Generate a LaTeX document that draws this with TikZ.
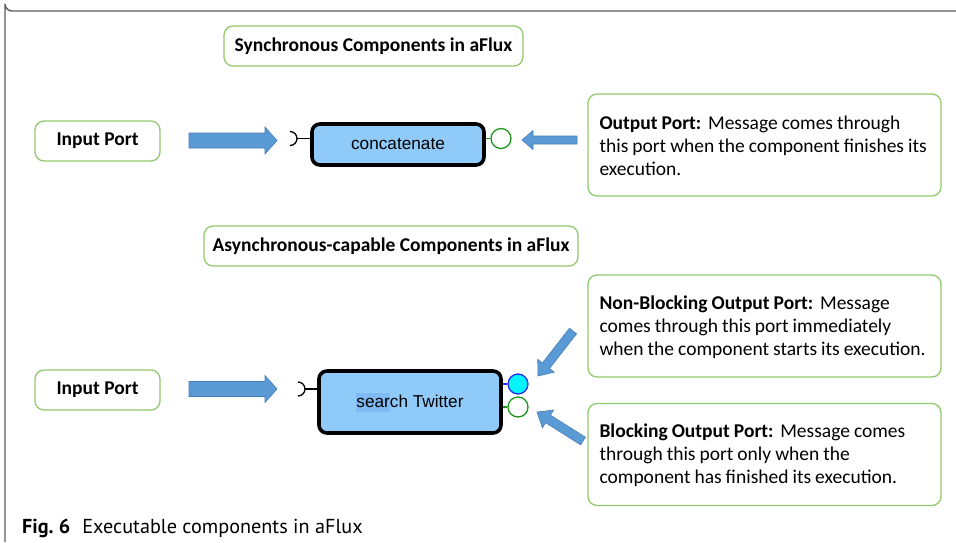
\documentclass[tikz,border=0pt]{standalone}
\usepackage{fontspec}
\setmainfont{Carlito}
\newfontfamily\compfont{Liberation Sans}
\newfontfamily\capfont{PT Sans}
\usetikzlibrary{calc}

\definecolor{boxgreen}{RGB}{146,200,110}
\definecolor{compfill}{RGB}{144,202,249}
\definecolor{selfill}{RGB}{126,186,244}
\definecolor{portgreen}{RGB}{30,150,30}
\definecolor{portblue}{RGB}{40,40,245}
\definecolor{portcyan}{RGB}{0,245,255}
\definecolor{arrowfill}{RGB}{91,155,213}
\definecolor{arrowedge}{RGB}{70,125,185}
\definecolor{framegray}{RGB}{90,90,90}

\newcommand\descfont{\fontsize{19.5}{23.2}\selectfont\spaceskip=4pt plus 1pt minus 1pt\relax}
\newcommand\leadin[1]{\textbf{#1}\hspace{0.35em}}

\tikzset{
  infobox/.style={draw=boxgreen, line width=1.3pt, rounded corners=9pt, fill=white,
    inner sep=0pt},
  titlebox/.style={infobox, font=\bfseries\fontsize{19.5}{22}\selectfont},
  descbox/.style={infobox, minimum width=353, minimum height=102},
  desctext/.style={anchor=west, inner sep=0pt, align=left, font=\descfont},
  component/.style={draw=black, line width=3.6pt, rounded corners=8pt, fill=compfill,
    font=\compfont\fontsize{17.2}{20}\selectfont, inner sep=0pt},
  outport/.style={circle, draw=portgreen, line width=1.3pt, fill=white,
    minimum size=20, inner sep=0pt},
  nbport/.style={outport, draw=portblue, fill=portcyan},
  blockarr/.style={draw=arrowedge, fill=arrowfill, line width=0.6pt},
  socket/.style={draw=black, line width=1.3pt},
}

% block arrow: tail, tip, shaft half width, head half width, head length
\newcommand\blockarrow[5]{%
  \draw[blockarr] let \p1=#1, \p2=#2,
      \n1={atan2(\y2-\y1,\x2-\x1)}, \n2={veclen(\x2-\x1,\y2-\y1)} in
    [shift={(\p1)}, rotate=\n1]
    (0pt,#3) -- (\n2-#5,#3) -- (\n2-#5,#4) -- (\n2,0pt)
    -- (\n2-#5,-#4) -- (\n2-#5,-#3) -- (0pt,-#3) -- cycle;}

\begin{document}
\begin{tikzpicture}[x=1pt,y=-1pt]
\useasboundingbox (0,0) rectangle (956,542);

% outer frame
\draw[framegray, line width=1.4pt] (956,11) -- (12,11) arc[start angle=90, end angle=180, radius=7] -- (5,542);

% ---------- synchronous component ----------
\node[titlebox, minimum width=299, minimum height=40] (t1) at (373.5,46) {Synchronous Components in aFlux};
\node[titlebox, minimum width=125, minimum height=40] (in1) at (97.5,141) {Input Port};

\node[component, minimum width=172, minimum height=41] (conc) at (398,144.5) {concatenate};
\coordinate (s1) at (297,138.5);
\draw[socket] (290,131.5) arc[start angle=-90, end angle=90, radius=7];
\draw[socket] (s1) -- (s1 -| conc.west);
\node[outport] (o1) at (501,138.5) {};
\draw[portgreen, line width=1.3pt] (o1.west) -- (o1.west -| conc.east);

\node[descbox] (d1) at (764.5,145) {};
\node[desctext] (d1t) at ([xshift=12,yshift=-1]d1.west)
  {\leadin{Output Port:}Message comes through\\
   this port when the component finishes its\\
   execution.};

\coordinate (a1t) at (189,140.5);
\coordinate (a1h) at (277,140.5);
\blockarrow{(a1t)}{(a1h)}{7.5pt}{13.5pt}{12pt}
\coordinate (a2t) at (577,140);
\coordinate (a2h) at (522,140);
\blockarrow{(a2t)}{(a2h)}{4pt}{9.5pt}{11pt}

% ---------- asynchronous-capable component ----------
\node[titlebox, minimum width=374, minimum height=40] (t2) at (391,246) {Asynchronous-capable Components in aFlux};
\node[titlebox, minimum width=125, minimum height=40] (in2) at (97.5,390) {Input Port};

\node[component, minimum width=182, minimum height=62] (twit) at (410,402)
  {{\setlength\fboxsep{0pt}\colorbox{selfill}{\rule[-4pt]{0pt}{19pt}sear}}ch Twitter};
\coordinate (s2) at (305,389);
\draw[socket] (298,382) arc[start angle=-90, end angle=90, radius=7];
\draw[socket] (s2) -- (s2 -| twit.west);
\node[nbport] (o2) at (518,384) {};
\node[outport] (o3) at (518,407) {};
\draw[portblue, line width=1.3pt] (o2.west) -- (o2.west -| twit.east);
\draw[portgreen, line width=1.3pt] (o3.west) -- (o3.west -| twit.east);

\node[descbox] (d2) at (764.5,326) {};
\node[desctext] (d2t) at ([xshift=12,yshift=-1]d2.west)
  {\leadin{Non-Blocking Output Port:}Message\\
   comes through this port immediately\\
   when the component starts its execution.};
\node[descbox] (d3) at (764.5,454.5) {};
\node[desctext] (d3t) at ([xshift=12,yshift=-1]d3.west)
  {\leadin{Blocking Output Port:}Message comes\\
   through this port only when the\\
   component has finished its execution.};

\coordinate (a3t) at (189,389);
\coordinate (a3h) at (277,389);
\blockarrow{(a3t)}{(a3h)}{7.5pt}{13.5pt}{12pt}
\coordinate (a4t) at (573,331);
\coordinate (a4h) at (538,376);
\blockarrow{(a4t)}{(a4h)}{4.5pt}{10.5pt}{13pt}
\coordinate (a5t) at (583,441);
\coordinate (a5h) at (537,412);
\blockarrow{(a5t)}{(a5h)}{4.5pt}{10.5pt}{13pt}

% caption
\node[anchor=base west, inner sep=0pt, font=\capfont\fontsize{20.2}{23}\selectfont] (cap) at (22,533)
  {\textbf{Fig.~6}\hspace{0.6em}Executable components in aFlux};
\end{tikzpicture}
\end{document}
